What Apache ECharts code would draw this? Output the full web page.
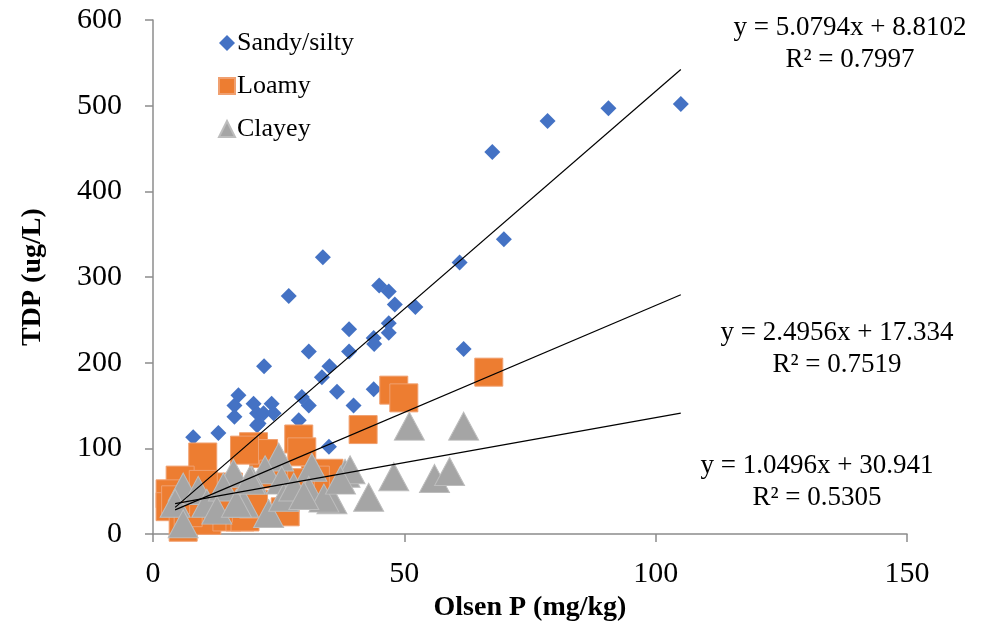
<!DOCTYPE html>
<html>
<head>
<meta charset="utf-8">
<script src="https://cdn.jsdelivr.net/npm/echarts@6/dist/echarts.min.js"></script>
<style>
  html, body { margin: 0; padding: 0; background: #fff; }
  #chart { width: 991px; height: 627px; }
</style>
</head>
<body>
<div id="chart"></div>
<script>
// Olsen P (mg/kg) vs TDP (ug/L)
var sandy = [
  [8, 113], [13, 118], [16.2, 137], [16.2, 150], [17, 162], [20, 152], [20.7, 141],
  [20.7, 127], [22.1, 196], [22, 141], [23.6, 152], [24, 141], [21, 129], [27, 278],
  [29, 133], [29.6, 160], [31, 150], [31, 213], [33.8, 323], [33.6, 183], [35.1, 196],
  [35, 102], [36.6, 166], [39, 239], [39, 213], [39.9, 150], [43.9, 229], [44, 222],
  [43.9, 169], [45, 290], [46.9, 283], [46.9, 246], [46.9, 235], [48.1, 268], [52.2, 265],
  [61.8, 216], [61, 317], [67.5, 446], [69.8, 344], [78.5, 482], [90.6, 497], [105, 502]
];
var loamy = [
  [66.8, 189], [47.9, 168], [49.9, 159], [41.8, 122], [29, 111], [29.6, 96], [20, 102],
  [22, 94], [18.2, 98], [9.9, 90], [35, 71], [32.3, 63], [29.3, 60], [5.4, 63], [3.4, 47],
  [3.4, 32], [6, 8], [10.7, 16], [14.7, 20], [17.3, 20], [18.3, 20], [26.3, 26], [8, 40],
  [12, 45], [15, 55], [24, 70], [7, 25], [10, 58], [4.5, 40], [13, 30], [20, 35]
];
var clayey = [
  [51, 126], [61.8, 126], [47.9, 67], [56, 65], [59, 73], [42.9, 43], [38.2, 71], [39.2, 75],
  [35.6, 40], [25, 90], [31.6, 78], [22.3, 75], [19.7, 63], [25.6, 63], [31, 51], [34, 42],
  [23, 24], [26, 43], [37.3, 63], [18, 36], [16, 71], [6, 55], [9, 51], [4.4, 36], [6, 12],
  [10.7, 36], [14, 55], [12.7, 28], [16.6, 36], [19.3, 63], [28, 55], [30, 45]
];

// trendline coefficients as printed on the chart
var slopes = [5.0794, 2.4956, 1.0496];
var intercepts = [8.8102, 17.334, 30.941];
var r2 = ['0.7997', '0.7519', '0.5305'];
var trendRange = [4.4, 105];

var seriesNames = ['Sandy/silty', 'Loamy', 'Clayey'];
var colors = ['#4472C4', '#ED7D31', '#A5A5A5'];

var serif = '"Liberation Serif", "Times New Roman", serif';

function trendLine(i) {
  return trendRange.map(function (x) {
    return [x, slopes[i] * x + intercepts[i]];
  });
}

var option = {
  animation: false,
  grid: { left: 153, right: 84, top: 20, bottom: 92 },
  legend: {
    data: seriesNames,
    orient: 'vertical',
    left: 213,
    top: 25,
    itemWidth: 16,
    itemHeight: 16,
    itemGap: 17,
    textStyle: { fontFamily: serif, fontSize: 26, color: '#000', padding: [0, 0, 0, -3] }
  },
  xAxis: {
    type: 'value',
    min: 0, max: 150, interval: 50,
    name: 'Olsen P (mg/kg)',
    nameLocation: 'middle',
    nameGap: 58,
    nameTextStyle: { fontFamily: serif, fontSize: 28, fontWeight: 'bold', color: '#000' },
    axisLine: { lineStyle: { color: '#8c8c8c', width: 1.5 } },
    axisTick: { show: true, length: 8, lineStyle: { color: '#8c8c8c', width: 1.5 } },
    axisLabel: { fontFamily: serif, fontSize: 30, color: '#000', margin: 25 },
    splitLine: { show: false }
  },
  yAxis: {
    type: 'value',
    min: 0, max: 600, interval: 100,
    name: 'TDP (ug/L)',
    nameLocation: 'middle',
    nameGap: 106,
    nameTextStyle: { fontFamily: serif, fontSize: 28, fontWeight: 'bold', color: '#000' },
    axisLine: { show: true, lineStyle: { color: '#8c8c8c', width: 1.5 } },
    axisTick: { show: true, length: 8, lineStyle: { color: '#8c8c8c', width: 1.5 } },
    axisLabel: { fontFamily: serif, fontSize: 30, color: '#000', margin: 31 },
    splitLine: { show: false }
  },
  series: [
    {
      name: 'Sandy/silty', type: 'scatter', data: sandy,
      symbol: 'diamond', symbolSize: 16,
      itemStyle: { color: colors[0], opacity: 1 }
    },
    {
      name: 'Loamy', type: 'scatter', data: loamy,
      symbol: 'rect', symbolSize: 28,
      itemStyle: { color: colors[1], opacity: 1, borderColor: '#f0a070', borderWidth: 1 }
    },
    {
      name: 'Clayey', type: 'scatter', data: clayey,
      symbol: 'triangle', symbolSize: [30, 28],
      itemStyle: { color: colors[2], opacity: 1, borderColor: '#bdbdbd', borderWidth: 1 }
    }
  ].concat([0, 1, 2].map(function (i) {
    return {
      type: 'line', data: trendLine(i), symbol: 'none', silent: true, z: 5,
      lineStyle: { color: '#000', width: 1.2 }
    };
  })),
  graphic: [
    { pos: [850, 44], txt: 'y = ' + slopes[0] + 'x + ' + intercepts[0] + '\nR² = ' + r2[0] },
    { pos: [837, 349], txt: 'y = ' + slopes[1] + 'x + ' + intercepts[1] + '\nR² = ' + r2[1] },
    { pos: [817, 482], txt: 'y = ' + slopes[2] + 'x + ' + intercepts[2] + '\nR² = ' + r2[2] }
  ].map(function (t) {
    return {
      type: 'text', x: t.pos[0], y: t.pos[1],
      style: {
        text: t.txt, font: '27px ' + serif, fill: '#000',
        align: 'center', verticalAlign: 'middle', lineHeight: 32
      }
    };
  })
};

var chart = echarts.init(document.getElementById('chart'));
chart.setOption(option);
</script>
</body>
</html>
